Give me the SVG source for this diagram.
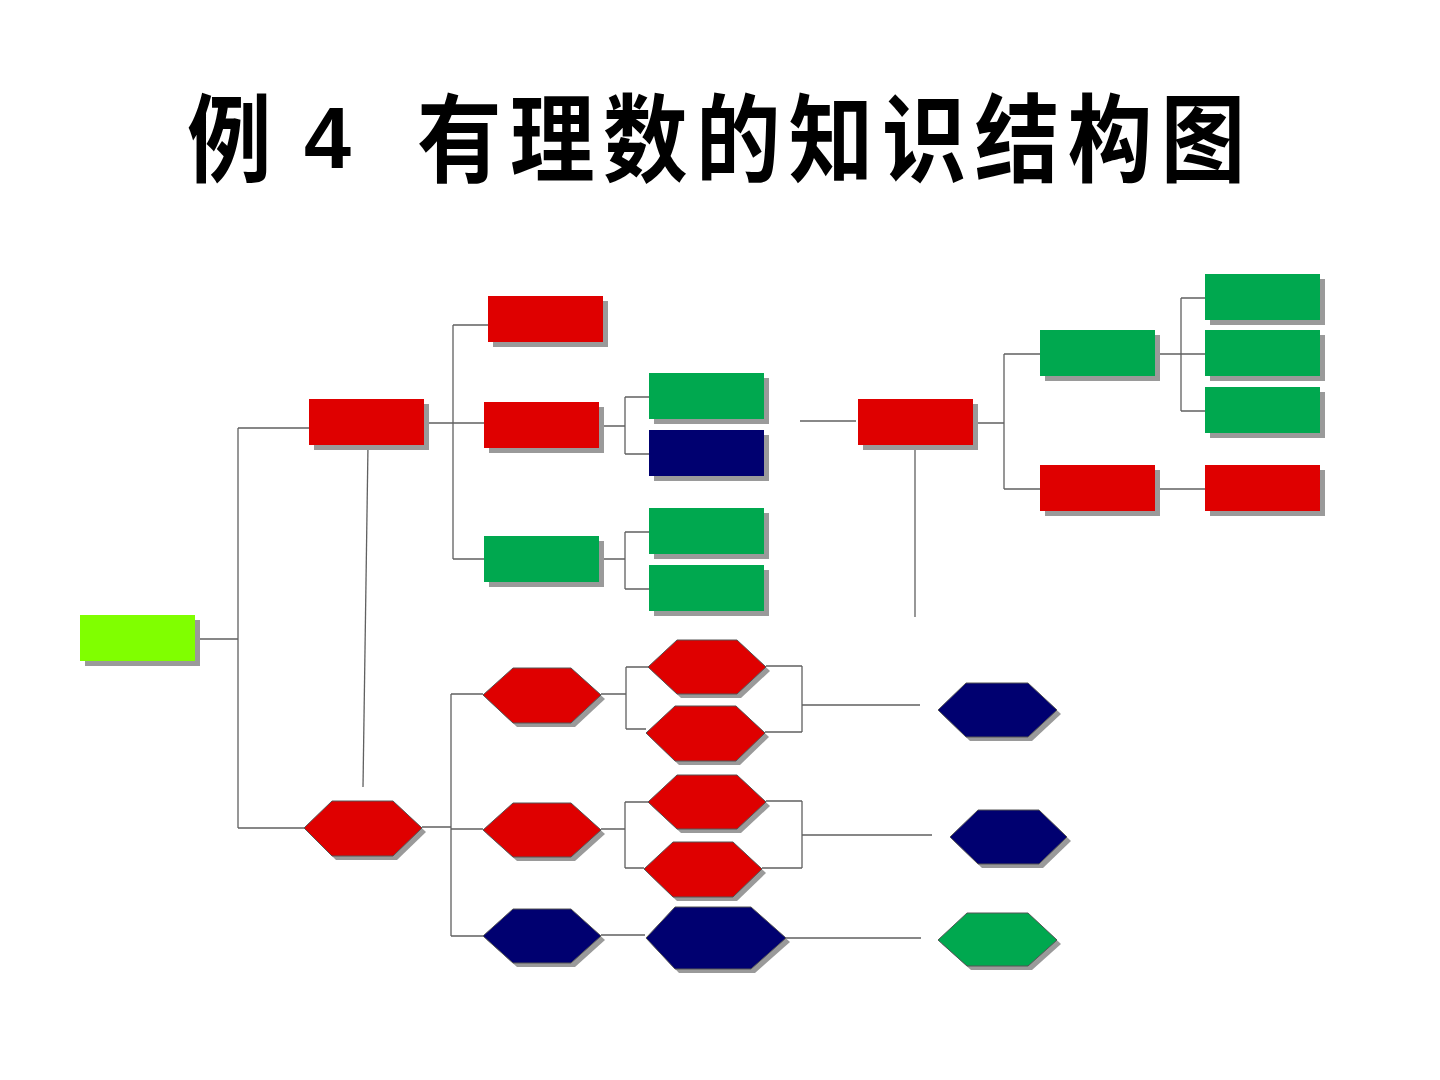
<svg xmlns="http://www.w3.org/2000/svg" xmlns:xlink="http://www.w3.org/1999/xlink" width="1440" height="1080" viewBox="0 0 1440 1080">
<style>
.sh{fill:#9a9a9a}
.red{fill:#df0000}
.grn{fill:#00a84f}
.nvy{fill:#000070}
.lime{fill:#80ff00}
.hx{stroke:#555;stroke-width:1}
.conn path{fill:none;stroke:#606060;stroke-width:1.3}
.title{font-family:"Noto Sans CJK SC","Noto Sans CJK JP",sans-serif;font-weight:bold;font-size:94px;fill:#000}
.num{font-family:"Liberation Sans",Arial,sans-serif;font-weight:bold;font-size:88px;fill:#000}
</style>
<defs>
<rect id="box" width="115" height="46"/>
</defs>
<rect width="1440" height="1080" fill="#fff"/>
<g id="title">
<text class="title" transform="translate(187,174) scale(0.9,1.02)" x="0" y="0">例</text>
<text class="num" x="304" y="168" textLength="47" lengthAdjust="spacingAndGlyphs">4</text>
<text class="title" transform="translate(417,174) scale(0.9,1.02)" x="0" y="0" letter-spacing="9.3">有理数的知识结构图</text>
</g>
<g class="conn" id="connectors">
<path d="M195,639 H238 M238,428 V828 M238,428 H309 M238,828 H304"/>
<path d="M368,445 L363,787"/>
<path d="M424,423 H453 M453,325 V559 M453,325 H488 M453,423 H484 M453,559 H484"/>
<path d="M599,426 H625 M625,397 V454 M625,397 H649 M625,454 H649"/>
<path d="M599,559 H625 M625,532 V589 M625,532 H649 M625,589 H649"/>
<path d="M800,421 H856"/>
<path d="M915,444 V617"/>
<path d="M973,423 H1004 M1004,354 V489 M1004,354 H1040 M1004,489 H1040"/>
<path d="M1155,354 H1181 M1181,298 V411 M1181,298 H1205 M1181,354 H1205 M1181,411 H1205"/>
<path d="M1155,489 H1205"/>
<path d="M422,827 H451 M451,694 V936 M451,694 H483 M451,829 H483 M451,936 H483"/>
<path d="M601,694 H626 M626,667 V729 M626,667 H648 M626,729 H646"/>
<path d="M766,666 H802 M765,732 H802 M802,666 V732 M802,705 H920"/>
<path d="M601,829 H625 M625,802 V868 M625,802 H648 M625,868 H644"/>
<path d="M766,801 H802 M762,868 H802 M802,801 V868 M802,835 H932"/>
<path d="M601,935 H645 M786,938 H921"/>
</g>
<g id="root"><use href="#box" class="sh" x="85" y="620"/><use href="#box" class="lime" x="80" y="615"/></g>
<g id="nA"><use href="#box" class="sh" x="314" y="404"/><use href="#box" class="red" x="309" y="399"/></g>
<g id="nA1"><use href="#box" class="sh" x="493" y="301"/><use href="#box" class="red" x="488" y="296"/></g>
<g id="nA2"><use href="#box" class="sh" x="489" y="407"/><use href="#box" class="red" x="484" y="402"/></g>
<g id="nA2a"><use href="#box" class="sh" x="654" y="378"/><use href="#box" class="grn" x="649" y="373"/></g>
<g id="nA2b"><use href="#box" class="sh" x="654" y="435"/><use href="#box" class="nvy" x="649" y="430"/></g>
<g id="nA3"><use href="#box" class="sh" x="489" y="541"/><use href="#box" class="grn" x="484" y="536"/></g>
<g id="nA3a"><use href="#box" class="sh" x="654" y="513"/><use href="#box" class="grn" x="649" y="508"/></g>
<g id="nA3b"><use href="#box" class="sh" x="654" y="570"/><use href="#box" class="grn" x="649" y="565"/></g>
<g id="nR1"><use href="#box" class="sh" x="863" y="404"/><use href="#box" class="red" x="858" y="399"/></g>
<g id="nG1"><use href="#box" class="sh" x="1045" y="335"/><use href="#box" class="grn" x="1040" y="330"/></g>
<g id="nG1a"><use href="#box" class="sh" x="1210" y="279"/><use href="#box" class="grn" x="1205" y="274"/></g>
<g id="nG1b"><use href="#box" class="sh" x="1210" y="335"/><use href="#box" class="grn" x="1205" y="330"/></g>
<g id="nG1c"><use href="#box" class="sh" x="1210" y="392"/><use href="#box" class="grn" x="1205" y="387"/></g>
<g id="nR2"><use href="#box" class="sh" x="1045" y="470"/><use href="#box" class="red" x="1040" y="465"/></g>
<g id="nR3"><use href="#box" class="sh" x="1210" y="470"/><use href="#box" class="red" x="1205" y="465"/></g>
<g id="hH0"><polygon class="sh" transform="translate(4,4)" points="304,828 332,801 393,801 422,828 393,856 332,856"/><polygon class="red hx" points="304,828 332,801 393,801 422,828 393,856 332,856"/></g>
<g id="hH1"><polygon class="sh" transform="translate(4,4)" points="483,695 513,668 571,668 601,695 571,723 513,723"/><polygon class="red hx" points="483,695 513,668 571,668 601,695 571,723 513,723"/></g>
<g id="hH2"><polygon class="sh" transform="translate(4,4)" points="483,830 513,803 571,803 601,830 571,857 513,857"/><polygon class="red hx" points="483,830 513,803 571,803 601,830 571,857 513,857"/></g>
<g id="hH3"><polygon class="sh" transform="translate(4,4)" points="483,936 513,909 571,909 601,936 571,963 513,963"/><polygon class="nvy hx" points="483,936 513,909 571,909 601,936 571,963 513,963"/></g>
<g id="hH1a"><polygon class="sh" transform="translate(4,4)" points="648,667 677,640 737,640 766,667 737,694 677,694"/><polygon class="red hx" points="648,667 677,640 737,640 766,667 737,694 677,694"/></g>
<g id="hH1b"><polygon class="sh" transform="translate(4,4)" points="646,733 675,706 736,706 765,733 736,761 675,761"/><polygon class="red hx" points="646,733 675,706 736,706 765,733 736,761 675,761"/></g>
<g id="hH2a"><polygon class="sh" transform="translate(4,4)" points="648,802 677,775 737,775 766,802 737,829 677,829"/><polygon class="red hx" points="648,802 677,775 737,775 766,802 737,829 677,829"/></g>
<g id="hH2b"><polygon class="sh" transform="translate(4,4)" points="644,869 673,842 733,842 762,869 733,897 673,897"/><polygon class="red hx" points="644,869 673,842 733,842 762,869 733,897 673,897"/></g>
<g id="hH3a"><polygon class="sh" transform="translate(4,4)" points="646,938 675,907 751,907 786,938 751,969 675,969"/><polygon class="nvy hx" points="646,938 675,907 751,907 786,938 751,969 675,969"/></g>
<g id="hN1"><polygon class="sh" transform="translate(4,4)" points="938,710 966,683 1028,683 1057,710 1028,737 966,737"/><polygon class="nvy hx" points="938,710 966,683 1028,683 1057,710 1028,737 966,737"/></g>
<g id="hN2"><polygon class="sh" transform="translate(4,4)" points="950,837 978,810 1039,810 1067,837 1039,864 978,864"/><polygon class="nvy hx" points="950,837 978,810 1039,810 1067,837 1039,864 978,864"/></g>
<g id="hN3"><polygon class="sh" transform="translate(4,4)" points="938,940 967,913 1028,913 1057,940 1028,966 967,966"/><polygon class="grn hx" points="938,940 967,913 1028,913 1057,940 1028,966 967,966"/></g>
</svg>
